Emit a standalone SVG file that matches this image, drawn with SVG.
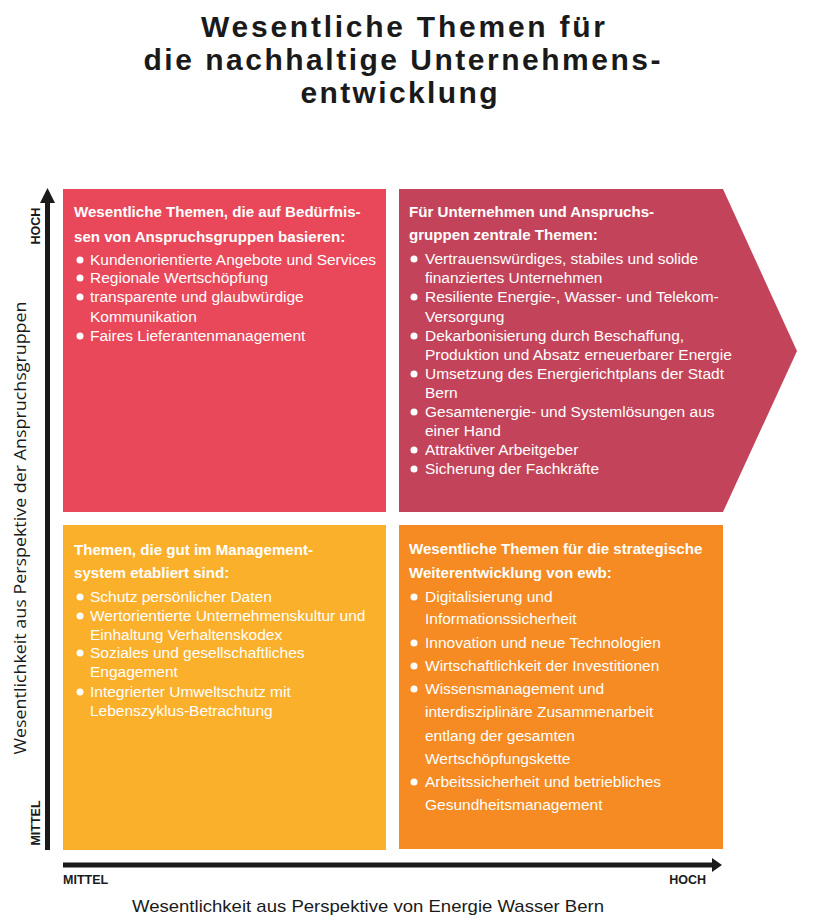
<svg xmlns="http://www.w3.org/2000/svg" width="815" height="920" viewBox="0 0 815 920">
<style>
.title{font-family:"Liberation Sans",Arial,sans-serif;font-weight:bold;font-size:30px;fill:#1a1a1a;text-anchor:middle}
.hd{font-family:"Liberation Sans",Arial,sans-serif;font-weight:bold;font-size:15.1px;fill:#ffffff}
.bd{font-family:"Liberation Sans",Arial,sans-serif;font-size:15.5px;fill:#ffffff}
.bul{fill:#ffffff}
.ax{font-family:"Liberation Sans",Arial,sans-serif;font-weight:bold;font-size:12.5px;fill:#1a1a1a}
.axl{font-family:"Open Sans","Liberation Sans",sans-serif;font-size:16px;fill:#1a1a1a}
.axb{font-family:"Liberation Sans",Arial,sans-serif;font-size:17px;fill:#1a1a1a}
.axis{fill:#1a1a1a}
</style>
<rect x="0" y="0" width="815" height="920" fill="#ffffff"/>
<g id="title">
<text class="title" x="403" y="37" textLength="404" lengthAdjust="spacing">Wesentliche Themen für</text>
<text class="title" x="402" y="70" textLength="517" lengthAdjust="spacing">die nachhaltige Unternehmens-</text>
<text class="title" x="399" y="103" textLength="197" lengthAdjust="spacing">entwicklung</text>
</g>
<g id="connectors">
<rect class="axis" x="45" y="200" width="5" height="650"/>
<polygon class="axis" points="40,203 55,203 47.5,188"/>
<rect class="axis" x="63" y="862.5" width="651" height="5"/>
<polygon class="axis" points="712,858 712,872 722,865"/>
</g>
<g id="node-top-left">
<rect x="63" y="189" width="323" height="323" fill="#E8485A"/>
<text class="hd" x="74" y="217">Wesentliche Themen, die auf Bedürfnis-</text>
<text class="hd" x="74" y="242">sen von Anspruchsgruppen basieren:</text>
<circle class="bul" cx="80" cy="260" r="3.5"/><text class="bd" x="90" y="265">Kundenorientierte Angebote und Services</text>
<circle class="bul" cx="80" cy="278" r="3.5"/><text class="bd" x="90" y="283">Regionale Wertschöpfung</text>
<circle class="bul" cx="80" cy="297" r="3.5"/><text class="bd" x="90" y="302">transparente und glaubwürdige</text>
<text class="bd" x="90" y="322">Kommunikation</text>
<circle class="bul" cx="80" cy="336" r="3.5"/><text class="bd" x="90" y="341">Faires Lieferantenmanagement</text>
</g>
<g id="node-top-right">
<polygon points="399,189 723,189 797,351 723,512 399,512" fill="#C3445A"/>
<text class="hd" x="409" y="217">Für Unternehmen und Anspruchs-</text>
<text class="hd" x="409" y="240">gruppen zentrale Themen:</text>
<circle class="bul" cx="414" cy="259" r="3.5"/><text class="bd" x="425" y="264">Vertrauenswürdiges, stabiles und solide</text>
<text class="bd" x="425" y="283">finanziertes Unternehmen</text>
<circle class="bul" cx="414" cy="297" r="3.5"/><text class="bd" x="425" y="302">Resiliente Energie-, Wasser- und Telekom-</text>
<text class="bd" x="425" y="322">Versorgung</text>
<circle class="bul" cx="414" cy="336" r="3.5"/><text class="bd" x="425" y="341">Dekarbonisierung durch Beschaffung,</text>
<text class="bd" x="425" y="360">Produktion und Absatz erneuerbarer Energie</text>
<circle class="bul" cx="414" cy="374" r="3.5"/><text class="bd" x="425" y="379">Umsetzung des Energierichtplans der Stadt</text>
<text class="bd" x="425" y="398">Bern</text>
<circle class="bul" cx="414" cy="412" r="3.5"/><text class="bd" x="425" y="417">Gesamtenergie- und Systemlösungen aus</text>
<text class="bd" x="425" y="436">einer Hand</text>
<circle class="bul" cx="414" cy="450" r="3.5"/><text class="bd" x="425" y="455">Attraktiver Arbeitgeber</text>
<circle class="bul" cx="414" cy="469" r="3.5"/><text class="bd" x="425" y="474">Sicherung der Fachkräfte</text>
</g>
<g id="node-bottom-left">
<rect x="63" y="525" width="323" height="325" fill="#FBB02C"/>
<text class="hd" x="74" y="555">Themen, die gut im Management-</text>
<text class="hd" x="74" y="578">system etabliert sind:</text>
<circle class="bul" cx="80" cy="597" r="3.5"/><text class="bd" x="90" y="602">Schutz persönlicher Daten</text>
<circle class="bul" cx="80" cy="616" r="3.5"/><text class="bd" x="90" y="621">Wertorientierte Unternehmenskultur und</text>
<text class="bd" x="90" y="640">Einhaltung Verhaltenskodex</text>
<circle class="bul" cx="80" cy="653" r="3.5"/><text class="bd" x="90" y="658">Soziales und gesellschaftliches</text>
<text class="bd" x="90" y="677">Engagement</text>
<circle class="bul" cx="80" cy="692" r="3.5"/><text class="bd" x="90" y="697">Integrierter Umweltschutz mit</text>
<text class="bd" x="90" y="716">Lebenszyklus-Betrachtung</text>
</g>
<g id="node-bottom-right">
<rect x="399" y="525" width="324" height="324" fill="#F58B22"/>
<text class="hd" x="409" y="554">Wesentliche Themen für die strategische</text>
<text class="hd" x="409" y="578">Weiterentwicklung von ewb:</text>
<circle class="bul" cx="414" cy="597" r="3.5"/><text class="bd" x="425" y="602">Digitalisierung und</text>
<text class="bd" x="425" y="624">Informationssicherheit</text>
<circle class="bul" cx="414" cy="643" r="3.5"/><text class="bd" x="425" y="648">Innovation und neue Technologien</text>
<circle class="bul" cx="414" cy="666" r="3.5"/><text class="bd" x="425" y="671">Wirtschaftlichkeit der Investitionen</text>
<circle class="bul" cx="414" cy="689" r="3.5"/><text class="bd" x="425" y="694">Wissensmanagement und</text>
<text class="bd" x="425" y="717">interdisziplinäre Zusammenarbeit</text>
<text class="bd" x="425" y="741">entlang der gesamten</text>
<text class="bd" x="425" y="764">Wertschöpfungskette</text>
<circle class="bul" cx="414" cy="782" r="3.5"/><text class="bd" x="425" y="787">Arbeitssicherheit und betriebliches</text>
<text class="bd" x="425" y="810">Gesundheitsmanagement</text>
</g>
<g id="axis-labels">
<text class="ax" transform="translate(40,226) rotate(-90)" text-anchor="middle">HOCH</text>
<text class="ax" transform="translate(40,823) rotate(-90)" text-anchor="middle">MITTEL</text>
<text class="axl" transform="translate(26,528) rotate(-90)" text-anchor="middle" textLength="453" lengthAdjust="spacingAndGlyphs">Wesentlichkeit aus Perspektive der Anspruchsgruppen</text>
<text class="ax" x="63" y="884">MITTEL</text>
<text class="ax" x="706" y="884" text-anchor="end">HOCH</text>
<text class="axb" x="368" y="912" text-anchor="middle" textLength="472" lengthAdjust="spacingAndGlyphs">Wesentlichkeit aus Perspektive von Energie Wasser Bern</text>
</g>
</svg>
